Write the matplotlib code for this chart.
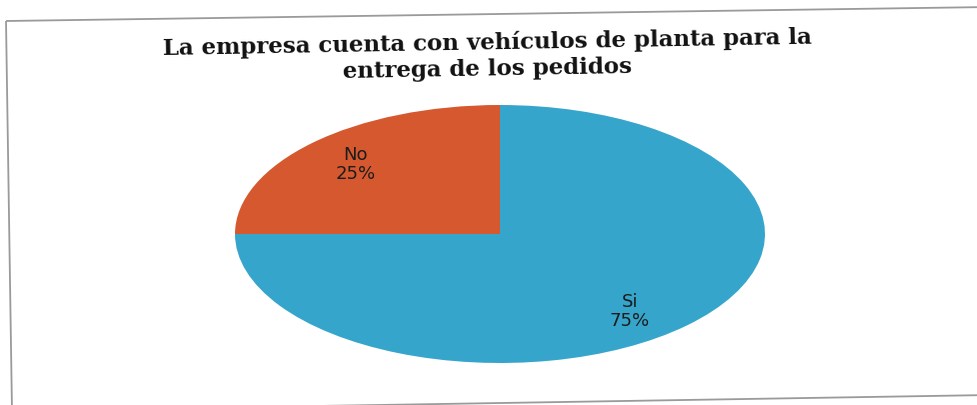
import matplotlib
matplotlib.use("Agg")
import matplotlib.pyplot as plt
from matplotlib.patches import Polygon

categories = ["No", "Si"]
values = [25, 75]
colors = ["#D5582E", "#36A5CB"]
title = "La empresa cuenta con vehículos de planta para la\nentrega de los pedidos"

W, H = 978, 406
fig = plt.figure(figsize=(W / 100, H / 100), dpi=100)
fig.patch.set_facecolor("white")

def fx(x):
    return x / W

def fy(y):
    return 1 - y / H

# slightly tilted frame (scanned look)
corners = [(6, 22), (990, 8), (990, 396), (12, 412)]
fig.patches.append(Polygon([(fx(x), fy(y)) for x, y in corners], closed=True,
                           transform=fig.transFigure, fill=False,
                           edgecolor="#9a9a9a", linewidth=1.3))

# title
fig.text(fx(487), fy(56), title, ha="center", va="center", family="DejaVu Serif",
         fontweight="bold", fontsize=16.5, linespacing=1.2, color="#111111",
         rotation=1.0, rotation_mode="anchor")

# pie axes placed at the ellipse bounding box
cx, cy, rx, ry = 500, 235, 265, 129
ax = fig.add_axes([fx(cx - rx), fy(cy + ry), 2 * rx / W, 2 * ry / H])
labels = [f"{c}\n{v}%" for c, v in zip(categories, values)]
wedges, texts = ax.pie(values, colors=colors, startangle=90, counterclock=True,
                       labels=labels, labeldistance=0.77, radius=1,
                       textprops=dict(family="DejaVu Sans", fontsize=13, color="#1c1c1c",
                                      ha="center", va="center", linespacing=1.05))
# nudge the "Si" label toward where the reference places it
x, y = texts[1].get_position()
texts[1].set_position((x - 0.055, y - 0.05))
ax.set_aspect("auto")
ax.set_xlim(-1, 1)
ax.set_ylim(-1, 1)
ax.axis("off")

fig.savefig("out.png", dpi=100, facecolor="white")
